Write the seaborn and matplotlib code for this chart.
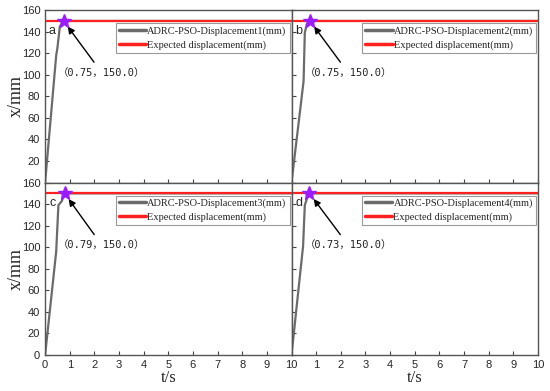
import numpy as np
import pandas as pd
import seaborn as sns
import matplotlib.pyplot as plt
from matplotlib.lines import Line2D

t_a = [0, 0.45, 0.50, 0.60, 0.75, 10]
x_a = [0, 118, 125, 145, 150, 150]
t_b = [0, 0.49, 0.54, 0.62, 0.75, 10]
x_b = [0, 94, 139, 147, 150, 150]
t_c = [0, 0.45, 0.54, 0.68, 0.79, 10]
x_c = [0, 96, 139, 143, 150, 150]
t_d = [0, 0.47, 0.54, 0.64, 0.73, 10]
x_d = [0, 101, 139, 146, 150, 150]

peak_t = [0.75, 0.75, 0.79, 0.73]
peak_x = [150.0, 150.0, 150.0, 150.0]
expected = 150
panel_tags = ["a", "b", "c", "d"]
series_names = ["ADRC-PSO-Displacement1(mm)", "ADRC-PSO-Displacement2(mm)",
                "ADRC-PSO-Displacement3(mm)", "ADRC-PSO-Displacement4(mm)"]
x_ticks = list(range(0, 11))
y_ticks = list(range(0, 161, 20))

sns.set_style("ticks")
plt.rcParams["font.family"] = ["Liberation Sans", "DejaVu Sans"]
plt.rcParams["xtick.direction"] = "in"
plt.rcParams["ytick.direction"] = "in"

fig, axes = plt.subplots(2, 2, figsize=(5.5, 3.91), dpi=100)
fig.subplots_adjust(left=0.082, right=0.978, top=0.974, bottom=0.092,
                    hspace=0, wspace=0)

curves = [(t_a, x_a), (t_b, x_b), (t_c, x_c), (t_d, x_d)]
gray = "#6b6b6b"
red = "#ff2020"
star = "#9b1cff"
serif = ["Liberation Serif", "DejaVu Serif"]

for i, ax in enumerate(axes.flat):
    t, x = curves[i]
    df = pd.DataFrame({"t": t, "x": x})
    sns.lineplot(data=df, x="t", y="x", ax=ax, color=gray, lw=1.6,
                 estimator=None, sort=False)
    ax.axhline(expected, color=red, lw=1.6)
    ax.plot(peak_t[i], peak_x[i], marker="*", color=star, ms=10, zorder=5,
            clip_on=False)
    ax.annotate("（%.2f，%.1f）" % (peak_t[i], peak_x[i]),
                xy=(peak_t[i], peak_x[i]), xytext=(2.3, 102),
                ha="center", va="center", fontsize=7.5, color="#222222",
                family=["DejaVu Sans Mono", "Noto Sans CJK SC"],
                arrowprops=dict(arrowstyle="-|>", color="black", lw=1,
                                shrinkA=2, shrinkB=5, mutation_scale=10))
    ax.text(0.3, 141, panel_tags[i], fontsize=9, ha="center", va="center")

    ax.set_xlim(0, 10)
    ax.set_ylim(0, 160)
    ax.set_xticks(x_ticks)
    ax.set_yticks(y_ticks)
    ax.set_xlabel("")
    ax.set_ylabel("")
    ax.tick_params(labelsize=8, length=3, width=0.8, color="#444444")
    for s in ax.spines.values():
        s.set_visible(True)
        s.set_color("#555555")
        s.set_linewidth(1.0)

    row, col = divmod(i, 2)
    if row == 0:
        ax.set_xticklabels([])
        ax.set_yticklabels([""] + [str(v) for v in y_ticks[1:]])
    else:
        ax.set_xlabel("t/s", family=serif, fontsize=12, labelpad=0)
        if col == 1:
            ax.set_xticklabels([""] + [str(v) for v in x_ticks[1:]])
    if col == 1:
        ax.set_yticklabels([])
    else:
        ax.set_ylabel("x/mm", family=serif, fontsize=13, labelpad=-2)

    handles = [Line2D([], [], color=gray, lw=2.5),
               Line2D([], [], color=red, lw=2.5)]
    leg = ax.legend(handles, [series_names[i], "Expected displacement(mm)"],
                    loc="upper right", bbox_to_anchor=(0.992, 0.925),
                    borderaxespad=0, fancybox=False, framealpha=1,
                    edgecolor="#999999", prop={"family": serif, "size": 7.5},
                    handlelength=2.6, handletextpad=0.1, borderpad=0.3,
                    labelspacing=0.4)
    leg.get_frame().set_linewidth(0.8)

fig.savefig("out.png", dpi=100)
